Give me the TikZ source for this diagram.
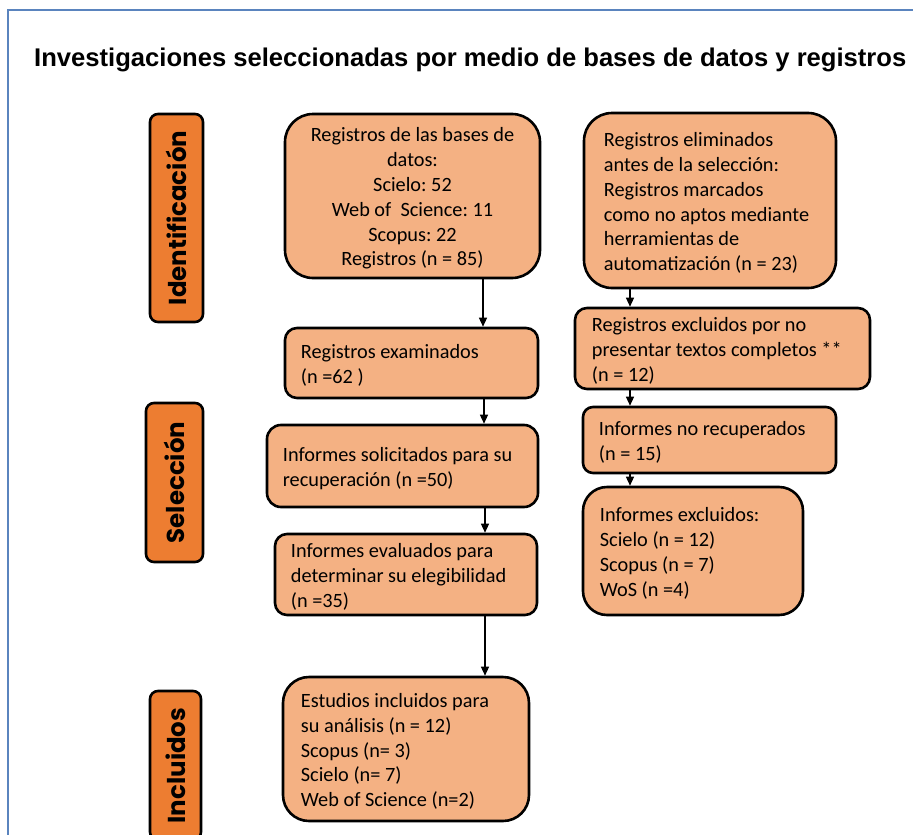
\documentclass[tikz,border=0pt]{standalone}
\usepackage{fontspec}
\setmainfont{Carlito}
\newfontfamily\titlefont{Liberation Sans}
\newfontfamily\labelfont{Poppins}
\usetikzlibrary{arrows.meta}
\definecolor{boxfill}{HTML}{F4B183}
\definecolor{labfill}{HTML}{ED7D31}
\definecolor{framecol}{HTML}{5A84BE}
\frenchspacing
\tikzset{
  box/.style={draw=black, line width=2.6pt, fill=boxfill, inner sep=0pt},
  txt/.style={anchor=west, align=left, inner sep=0pt, yshift=-2.5pt,
    font=\fontsize{20.3}{24.8}\selectfont},
  ctxt/.style={align=center, inner sep=0pt, yshift=-2.5pt,
    font=\fontsize{20.3}{24.8}\selectfont},
  lab/.style={draw=black, line width=2.6pt, fill=labfill, rounded corners=8pt, rotate=90,
    inner sep=0pt, font=\labelfont\bfseries\fontsize{24.5}{28}\selectfont},
  arr/.style={line width=1.3pt, -{Triangle[length=9pt,width=8pt]}},
}
\begin{document}
\begin{tikzpicture}[x=1pt,y=-1pt]
\useasboundingbox (0,0) rectangle (913,835);
\clip (0,0) rectangle (913,835);
\draw[framecol, line width=1.5pt] (8,10) rectangle (1000,900);
\node[anchor=base west, inner sep=0pt, font=\titlefont\bfseries\fontsize{25.6}{30}\selectfont] (title) at (34,66)
  {Investigaciones seleccionadas por medio de bases de datos y registros};
% labels
\node[lab, minimum width=208pt, minimum height=53pt] (lid) at (176.5,218) {Identificación};
\node[lab, minimum width=159pt, minimum height=57pt] (lsel) at (174.5,482.5) {Selección};
\node[lab, minimum width=149pt, minimum height=51pt] (linc) at (175.5,765.5) {Incluidos};
% boxes
\node[box, rounded corners=28pt, minimum width=255pt, minimum height=164pt] (b1) at (412.5,196) {};
\node[ctxt] (b1t) at (b1.center)
  {Registros de las bases de\\datos:\\Scielo: 52\\Web of\ \ Science: 11\\Scopus: 22\\Registros (n = 85)};
\node[box, rounded corners=28pt, minimum width=252pt, minimum height=175pt] (b2) at (710,200.5) {};
\node[txt] (b2t) at ([xshift=21pt]b2.west)
  {Registros eliminados\\antes de la selección:\\Registros marcados\\como no aptos mediante\\herramientas de\\automatización (n = 23)};
\node[box, rounded corners=12pt, minimum width=253pt, minimum height=70pt] (exam) at (411.5,363) {};
\node[txt] (examt) at ([xshift=17pt]exam.west) {Registros examinados\\(n =62 )};
\node[box, rounded corners=12pt, minimum width=295pt, minimum height=81pt] (excl) at (722.5,348.5) {};
\node[txt] (exclt) at ([xshift=18pt]excl.west)
  {Registros excluidos por no\\presentar textos completos **\\(n = 12)};
\node[box, rounded corners=14pt, minimum width=271pt, minimum height=82pt] (solic) at (402.5,466) {};
\node[txt] (solict) at ([xshift=17pt]solic.west) {Informes solicitados para su\\recuperación (n =50)};
\node[box, rounded corners=10pt, minimum width=253pt, minimum height=66pt] (norec) at (709.5,440) {};
\node[txt] (norect) at ([xshift=17pt]norec.west) {Informes no recuperados\\(n = 15)};
\node[box, rounded corners=24pt, minimum width=220pt, minimum height=128pt] (infex) at (693,551) {};
\node[txt] (infext) at ([xshift=18pt]infex.west)
  {Informes excluidos:\\Scielo (n = 12)\\Scopus (n = 7)\\WoS (n =4)};
\node[box, rounded corners=12pt, minimum width=262pt, minimum height=81pt] (eval) at (406,574.5) {};
\node[txt] (evalt) at ([xshift=17pt]eval.west)
  {Informes evaluados para\\determinar su elegibilidad\\(n =35)};
\node[box, rounded corners=26pt, minimum width=246pt, minimum height=144pt] (estud) at (406,749) {};
\node[txt] (estudt) at ([xshift=19pt]estud.west)
  {Estudios incluidos para\\su análisis (n = 12)\\Scopus (n= 3)\\Scielo (n= 7)\\Web of Science (n=2)};
% arrow columns
\coordinate (cl1) at (483,0);
\coordinate (cl2) at (484,0);
\coordinate (cl3) at (485,0);
\coordinate (cr) at (630,0);
\draw[arr] (b1.south -| cl1) -- (exam.north -| cl1);
\draw[arr] (exam.south -| cl2) -- (solic.north -| cl2);
\draw[arr] (solic.south -| cl3) -- (eval.north -| cl3);
\draw[arr] (eval.south -| cl3) -- (estud.north -| cl3);
\draw[arr] (b2.south -| cr) -- (excl.north -| cr);
\draw[arr] (excl.south -| cr) -- (norec.north -| cr);
\draw[arr] (norec.south -| cr) -- (infex.north -| cr);
\end{tikzpicture}
\end{document}
